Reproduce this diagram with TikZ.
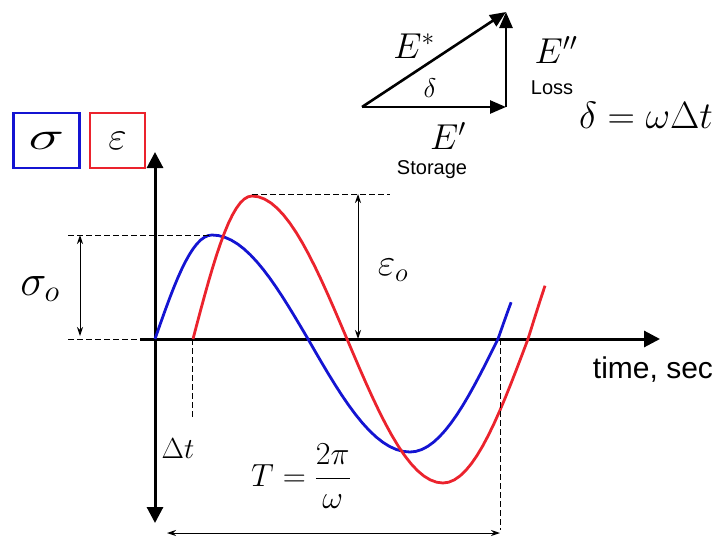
\RequirePackage{fix-cm}
\documentclass[tikz,border=0pt]{standalone}
\usepackage{amsmath}
\usepackage{fontspec}
\setsansfont{Liberation Sans}
\usetikzlibrary{arrows.meta}

\definecolor{sigmablue}{RGB}{20,20,210}
\definecolor{epsred}{RGB}{235,35,45}

\tikzset{
  axis/.style={line width=3pt, -{Triangle[length=16pt,width=16pt]}},
  vec/.style={line width=2.6pt, -{Triangle[length=16pt,width=13pt]}},
  dim/.style={line width=1pt, {Stealth[length=9pt,width=6pt]}-{Stealth[length=9pt,width=6pt]}},
  guide/.style={line width=1pt, dash pattern=on 6pt off 3pt},
  wave/.style={line width=2.8pt, line join=round},
  sym/.style={inner sep=0pt, font=\fontsize{40}{48}\selectfont},
  lbl/.style={inner sep=0pt, font=\sffamily\fontsize{20}{24}\selectfont},
  legendbox/.style={line width=2.6pt, inner sep=0pt, minimum height=55pt},
}

\begin{document}
\begin{tikzpicture}[x=1pt, y=-1pt]
    \useasboundingbox (0,0) rectangle (720,541);

    % axes
    \coordinate (o) at (155,339);
    \coordinate (ytop) at (155,152);
    \coordinate (ybot) at (155,523);
    \coordinate (xleft) at (140,339);
    \coordinate (xright) at (660,339);
    \draw[axis] (o) -- (ytop);
    \draw[axis] (o) -- (ybot);
    \draw[axis] (xleft) -- (xright);

    % stress and strain waves
    \draw[wave, sigmablue] (o)
        -- plot[domain=0:1, samples=16] ({155+57*\x},{339-104*sin(90*\x)})
        -- plot[domain=0:1, samples=16] ({212+96*\x},{339-104*cos(90*\x)})
        -- plot[domain=0:1, samples=16] ({308+102*\x},{339+113*sin(90*\x)})
        -- plot[domain=0:1, samples=16] ({410+88*\x},{339+113*cos(90*\x)})
        -- plot[domain=0:0.23, samples=6] ({498+57*\x},{339-104*sin(90*\x)});
    \draw[wave, epsred] (193,339)
        -- plot[domain=0:1, samples=16] ({193+59*\x},{339-143*sin(90*\x)})
        -- plot[domain=0:1, samples=16] ({252+95*\x},{339-143*cos(90*\x)})
        -- plot[domain=0:1, samples=16] ({347+96*\x},{339+144*sin(90*\x)})
        -- plot[domain=0:1, samples=16] ({443+85*\x},{339+144*cos(90*\x)})
        -- plot[domain=0:0.243, samples=6] ({528+70*\x},{339-143*sin(90*\x)});

    % guide lines
    \coordinate (bpeak) at (212,235);
    \coordinate (rpeak) at (252,194);
    \coordinate (sgtop) at (68,235);
    \coordinate (sgbot) at (68,339);
    \coordinate (eptop) at (390,194);
    \coordinate (dtbase) at (192,339);
    \coordinate (dtend) at (192,418);
    \coordinate (tbase) at (500,339);
    \coordinate (tend) at (500,530);
    \draw[guide] (sgtop) -- (bpeak);
    \draw[guide] (sgbot) -- (o);
    \draw[guide] (rpeak) -- (eptop);
    \draw[guide] (dtbase) -- (dtend);
    \draw[guide] (tbase) -- (tend);

    % dimensions
    \coordinate (sga) at (80,235);
    \coordinate (sgb) at (80,336);
    \coordinate (epa) at (358,194);
    \coordinate (epb) at (358,339);
    \coordinate (ta) at (167,533);
    \coordinate (tb) at (500,533);
    \draw[dim] (sga) -- (sgb);
    \draw[dim] (epa) -- (epb);
    \draw[dim] (ta) -- (tb);

    \node[sym, font=\fontsize{44}{50}\selectfont] (sigo) at (40,289) {$\sigma_o$};
    \node[sym, font=\fontsize{38}{44}\selectfont] (epso) at (393,270) {$\varepsilon_o$};
    \node[sym, font=\fontsize{29}{34}\selectfont] (dt) at (178,449) {$\Delta t$};
    \node[sym, font=\fontsize{32}{38}\selectfont] (period) at (301,476) {$T=\dfrac{2\pi}{\omega}$};
    \node[lbl, font=\sffamily\fontsize{30}{34}\selectfont] (time) at (653,370) {time, sec};

    % legend
    \node[legendbox, sym, draw=sigmablue, minimum width=66pt] (sigbox) at (46.5,140.5) {\scalebox{1.5}[1]{$\sigma$}};
    \node[legendbox, sym, draw=epsred, minimum width=55pt] (epsbox) at (117.5,140.5) {$\varepsilon$};

    % modulus triangle
    \coordinate (tA) at (362,107);
    \coordinate (tB) at (506,107);
    \coordinate (tC) at (506,12);
    \draw[vec] (tA) -- (tB);
    \draw[vec] (tB) -- (tC);
    \draw[vec] (tA) -- (tC);
    \node[sym, font=\fontsize{36}{40}\selectfont] (estar) at (414,46) {$E^{*}$};
    \node[sym, font=\fontsize{27}{30}\selectfont] (delta) at (430,88) {$\delta$};
    \node[sym, font=\fontsize{36}{40}\selectfont] (eloss) at (556,50) {$E''$};
    \node[lbl] (loss) at (552,88) {Loss};
    \node[sym, font=\fontsize{36}{40}\selectfont] (estor) at (448,136) {$E'$};
    \node[lbl] (stor) at (432,170) {Storage};
    \node[sym, font=\fontsize{38}{44}\selectfont] (phase) at (646,115) {$\delta=\omega\Delta t$};
\end{tikzpicture}
\end{document}
